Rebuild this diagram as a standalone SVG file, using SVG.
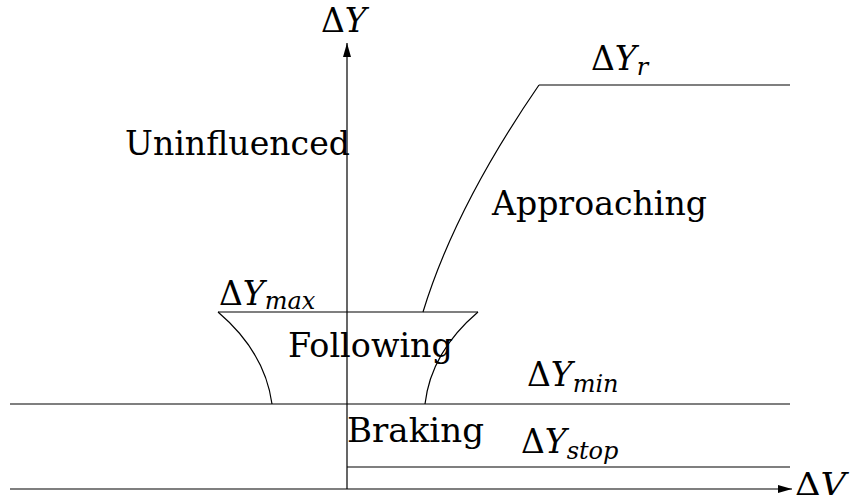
<svg xmlns="http://www.w3.org/2000/svg" width="851" height="503" viewBox="0 0 851 503">
<defs>
<marker id="ah" markerWidth="14" markerHeight="8" refX="14" refY="4" orient="auto" markerUnits="userSpaceOnUse">
<path d="M0,0 L14,4 L0,8 Z" fill="#000"/>
</marker>
<style>
.ln{stroke:#000;stroke-width:1.2;fill:none}
.t{font-family:"DejaVu Serif","Liberation Serif",serif;font-size:33px;fill:#000}
.i{font-style:italic}
.s{font-style:italic;font-size:24px}
</style>
</defs>
<rect width="851" height="503" fill="#fff"/>
<g id="connectors">
<line class="ln" x1="347" y1="489" x2="347" y2="43" marker-end="url(#ah)"/>
<line class="ln" x1="10" y1="489" x2="792" y2="489" marker-end="url(#ah)"/>
<line class="ln" x1="10" y1="404" x2="790" y2="404"/>
<line class="ln" x1="347" y1="467" x2="790" y2="467"/>
<line class="ln" x1="539" y1="85" x2="790" y2="85"/>
<line class="ln" x1="218" y1="312" x2="478" y2="312"/>
<path class="ln" d="M218,312 Q265,352 272,404"/>
<path class="ln" d="M478,312 Q431,352 425,404"/>
<path class="ln" d="M423,312 Q455,207 539,85"/>
</g>
<g id="uninfluenced"><text class="t" x="125" y="155" textLength="225" lengthAdjust="spacingAndGlyphs">Uninfluenced</text></g>
<g id="approaching"><text class="t" x="492" y="215" textLength="215" lengthAdjust="spacingAndGlyphs">Approaching</text></g>
<g id="following"><text class="t" x="288" y="357" textLength="165" lengthAdjust="spacingAndGlyphs">Following</text></g>
<g id="braking"><text class="t" x="347" y="442" textLength="137" lengthAdjust="spacingAndGlyphs">Braking</text></g>
<g id="label-dY"><text class="t" x="321" y="32">Δ<tspan class="i">Y</tspan></text></g>
<g id="label-dV"><text class="t" x="795" y="495" style="font-size:31px" textLength="51" lengthAdjust="spacingAndGlyphs">Δ<tspan class="i">V</tspan></text></g>
<g id="label-Yr"><text class="t" x="591" y="70">Δ<tspan class="i">Y</tspan><tspan class="s" dy="5">r</tspan></text></g>
<g id="label-Ymax"><text class="t" x="219" y="305">Δ<tspan class="i">Y</tspan><tspan class="s" dy="4">max</tspan></text></g>
<g id="label-Ymin"><text class="t" x="527" y="386">Δ<tspan class="i">Y</tspan><tspan class="s" dy="6">min</tspan></text></g>
<g id="label-Ystop"><text class="t" x="521" y="453">Δ<tspan class="i">Y</tspan><tspan class="s" dy="6">stop</tspan></text></g>
</svg>
